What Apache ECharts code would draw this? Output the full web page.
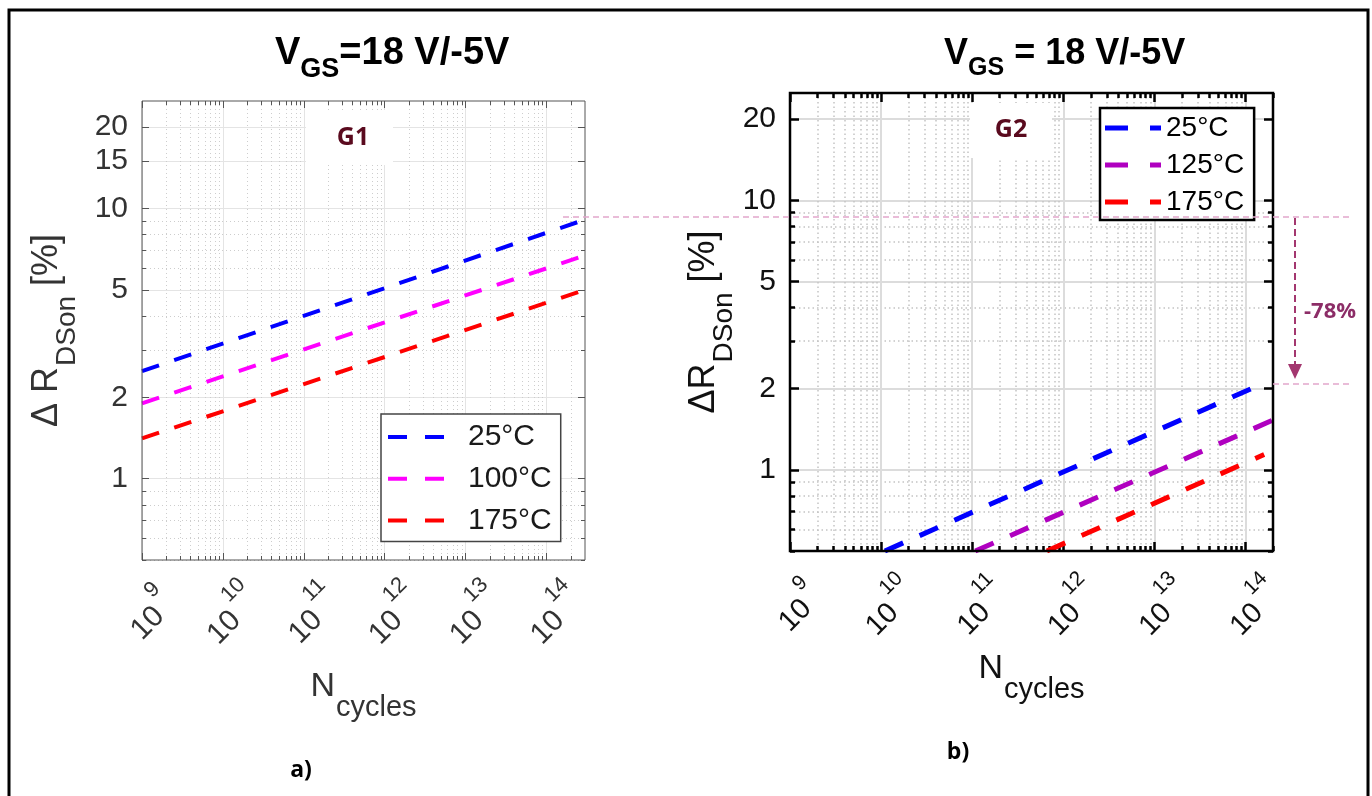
<!DOCTYPE html>
<html>
<head>
<meta charset="utf-8">
<title>ΔRDSon vs Ncycles</title>
<script src="https://cdn.jsdelivr.net/npm/echarts@6/dist/echarts.min.js"></script>
<style>
  html, body { margin: 0; padding: 0; background: #fff; }
  #main { width: 1372px; height: 796px; }
</style>
</head>
<body>
<div id="main"></div>
<script>
// ---- values (end points of the straight log-log fits) ----
// a) G1
const cyclesG1 = [1e9, 3e14]
const g1_25 = [2.5, 9.1]
const g1_100 = [1.9, 6.7]
const g1_175 = [1.41, 5.0]

// b) G2
const cyclesG2_25 = [1.1e10, 1.5e14]
const g2_25 = [0.5, 2.08]
const cyclesG2_125 = [1.08e11, 2e14]
const g2_125 = [0.5, 1.53]
const cyclesG2_175 = [6.6e11, 1.6e14]
const g2_175 = [0.5, 1.14]

// ticks
const xExponents = [9, 10, 11, 12, 13, 14]
const yLabelsG1 = [1, 2, 5, 10, 15, 20]
const yLabelsG2 = [1, 2, 5, 10, 20]
const yMin = 0.5
const yMax = 25

const FONT = '"Liberation Sans", Arial, sans-serif'
const pairs = (xs, ys) => xs.map((x, i) => [x, ys[i]])
const xMajors = xExponents.map(e => Math.pow(10, e))

// 2..9 x 10^n ticks, the dotted minor grid
function minorValues(lo, hi, skip) {
  const out = []
  for (let e = Math.floor(Math.log10(lo)); e <= Math.ceil(Math.log10(hi)); e++) {
    for (let m = 1; m <= 9; m++) {
      const v = +(m * Math.pow(10, e)).toPrecision(6)
      if (v >= lo && v <= hi && skip.indexOf(v) < 0) out.push(v)
    }
  }
  return out
}

// four axes per direction: labels + major grid, minor grid, opposite major ticks, opposite minor ticks
function makeAxes(dim, grid, min, max, majors, st, main) {
  const pos = dim === 'x' ? ['bottom', 'top'] : ['left', 'right']
  const minors = minorValues(min, max, majors)
  const base = { type: 'log', logBase: 10, gridIndex: grid, min: min, max: max, axisLine: { show: false } }
  const tick = (vals, len) => ({ show: true, inside: true, length: len, customValues: vals, lineStyle: { color: st.tick, width: st.tickW } })
  return [
    Object.assign({}, base, main, {
      position: pos[0],
      axisTick: tick(majors, st.major),
      splitLine: { show: true, lineStyle: { color: st.grid, width: st.gridW } }
    }),
    Object.assign({}, base, {
      position: pos[0], axisLabel: { show: false },
      axisTick: tick(minors, st.minor),
      splitLine: { show: true, lineStyle: { color: st.dot, width: st.dotW, type: [st.dotW, 3] } }
    }),
    Object.assign({}, base, { position: pos[1], axisLabel: { show: false }, axisTick: tick(majors, st.major), splitLine: { show: false } }),
    Object.assign({}, base, { position: pos[1], axisLabel: { show: false }, axisTick: tick(minors, st.minor), splitLine: { show: false } })
  ]
}

const styleA = { tick: '#555', tickW: 1, major: 7, minor: 4, grid: '#e4e4e4', gridW: 1, dot: '#cdcdcd', dotW: 1 }
const styleB = { tick: '#000', tickW: 2.5, major: 9, minor: 5, grid: '#dcdcdc', gridW: 2, dot: '#c4c4c4', dotW: 1.5 }

function xMain(color, size, sup, margin, gap) {
  return {
    axisLabel: {
      customValues: xMajors, rotate: 45, margin: margin, align: 'center', verticalAlign: 'middle',
      formatter: v => '{b|10}{s|' + Math.round(Math.log10(v)) + '}',
      rich: {
        b: { fontFamily: FONT, fontSize: size, lineHeight: size, color: color, verticalAlign: 'top', padding: [sup * 0.75, 0, 0, 0] },
        s: { fontFamily: FONT, fontSize: sup, lineHeight: sup, color: color, verticalAlign: 'top', padding: [0, 0, 0, 4] }
      }
    },
    name: '{n|N}{c|cycles}', nameLocation: 'middle', nameGap: gap, nameMoveOverlap: false,
    nameTextStyle: {
      rich: {
        n: { fontFamily: FONT, fontSize: 34, lineHeight: 34, color: color, verticalAlign: 'top' },
        c: { fontFamily: FONT, fontSize: 29, lineHeight: 29, color: color, verticalAlign: 'top', padding: [23, 0, 0, 1] }
      }
    }
  }
}

function yMain(labels, color, name, gap) {
  return {
    axisLabel: { customValues: labels, margin: 14, fontFamily: FONT, fontSize: 30, color: color },
    name: name, nameLocation: 'middle', nameRotate: 90, nameGap: gap, nameMoveOverlap: false,
    nameTextStyle: {
      rich: {
        d: { fontFamily: FONT, fontSize: 36, lineHeight: 36, color: color, verticalAlign: 'top' },
        s: { fontFamily: FONT, fontSize: 28, lineHeight: 28, color: color, verticalAlign: 'top', padding: [24, 0, 0, 1] }
      }
    }
  }
}

const xAxisA = makeAxes('x', 0, 1e9, cyclesG1[1], xMajors, styleA, xMain('#333', 30, 22, 46, 110))
const xAxisB = makeAxes('x', 1, 1e9, 2e14, xMajors, styleB, xMain('#111', 29, 21, 48, 101))
const yAxisA = makeAxes('y', 0, yMin, yMax, yLabelsG1, styleA, yMain(yLabelsG1, '#333', '{d|Δ R}{s|DSon}{d| [%]}', 77))
const yAxisB = makeAxes('y', 1, yMin, yMax, yLabelsG2, styleB, yMain(yLabelsG2, '#111', '{d|ΔR}{s|DSon}{d| [%]}', 68))

function dashed(name, data, color, width, dash, xi, yi) {
  return {
    name: name, type: 'line', data: data, xAxisIndex: xi, yAxisIndex: yi,
    symbol: 'none', showSymbol: false, z: 2, silent: true,
    itemStyle: { color: color },
    lineStyle: { color: color, width: width, type: dash, cap: 'butt' }
  }
}

// legend keys drawn as two dashes, like the reference
const legendBase = { orient: 'vertical', itemWidth: 56, backgroundColor: '#fff', selectedMode: false, itemStyle: { borderWidth: 0 } }

const option = {
  animation: false,
  backgroundColor: '#fff',
  grid: [
    { left: 142, top: 101, width: 443, height: 459, show: true, z: 3, backgroundColor: 'transparent', borderColor: '#555', borderWidth: 1 },
    { left: 790, top: 93, width: 483, height: 458, show: true, z: 3, backgroundColor: 'transparent', borderColor: '#000', borderWidth: 2.5 }
  ],
  xAxis: xAxisA.concat(xAxisB),
  yAxis: yAxisA.concat(yAxisB),
  legend: [
    Object.assign({}, legendBase, {
      data: ['25°C', '100°C', '175°C'], left: 381, top: 414, padding: [8, 9, 6, 7], itemGap: 11.7,
      icon: 'path://M0 0H19V4H0Z M37 0H56V4H37Z', itemHeight: 4,
      borderColor: '#444', borderWidth: 1.5,
      textStyle: { fontFamily: FONT, fontSize: 30, lineHeight: 30, color: '#1a1a1a', padding: [0, 0, 0, 19] }
    }),
    Object.assign({}, legendBase, {
      data: ['25°C', '125°C', '175°C'], left: 1100, top: 108, padding: [6, 10, 4, 5], itemGap: 9,
      icon: 'path://M0 0H23V5H0Z M45 0H56V5H45Z', itemHeight: 5,
      borderColor: '#000', borderWidth: 2.5,
      textStyle: { fontFamily: FONT, fontSize: 28, lineHeight: 28, color: '#000', padding: [0, 0, 0, 0] }
    })
  ],
  series: [
    dashed('25°C', pairs(cyclesG1, g1_25), '#0000ff', 4, [18, 16], 0, 0),
    dashed('100°C', pairs(cyclesG1, g1_100), '#ff00ff', 4, [18, 16], 0, 0),
    dashed('175°C', pairs(cyclesG1, g1_175), '#ff0000', 4, [18, 16], 0, 0),
    dashed('25°C', pairs(cyclesG2_25, g2_25), '#0000ff', 5, [20, 18], 4, 4),
    dashed('125°C', pairs(cyclesG2_125, g2_125), '#b000c0', 5, [20, 18], 4, 4),
    dashed('175°C', pairs(cyclesG2_175, g2_175), '#ff0000', 5, [20, 18], 4, 4)
  ],
  graphic: [
    // frame round the whole figure
    { type: 'rect', z: 10, shape: { x: 9, y: 10, width: 1359, height: 800 }, style: { fill: 'none', stroke: '#000', lineWidth: 3 } },
    // titles
    { type: 'text', x: 275, y: 35, z: 10, style: {
      text: '{v|V}{g|GS}{v|=18 V/-5V}', align: 'left', verticalAlign: 'top', textAlign: 'left', textVerticalAlign: 'top',
      rich: {
        v: { fontFamily: FONT, fontWeight: 'bold', fontSize: 38, lineHeight: 38, fill: '#000', verticalAlign: 'top' },
        g: { fontFamily: FONT, fontWeight: 'bold', fontSize: 27, lineHeight: 27, fill: '#000', verticalAlign: 'top', padding: [21, 0, 0, 0] }
      } } },
    { type: 'text', x: 944, y: 36, z: 10, style: {
      text: '{v|V}{g|GS}{v| = 18 V/-5V}', align: 'left', verticalAlign: 'top', textAlign: 'left', textVerticalAlign: 'top',
      rich: {
        v: { fontFamily: FONT, fontWeight: 'bold', fontSize: 36, lineHeight: 36, fill: '#000', verticalAlign: 'top' },
        g: { fontFamily: FONT, fontWeight: 'bold', fontSize: 25, lineHeight: 25, fill: '#000', verticalAlign: 'top', padding: [20, 0, 0, 0] }
      } } },
    // G1 / G2 tags on white patches
    { type: 'rect', z: 2, shape: { x: 306, y: 110, width: 87, height: 55 }, style: { fill: '#fff' } },
    { type: 'text', x: 353, y: 138, z: 3, style: { text: 'G1', fontFamily: '"Open Sans", sans-serif', fontWeight: 'bold', fontSize: 25, fill: '#5a0a1e', align: 'center', verticalAlign: 'middle', textAlign: 'center', textVerticalAlign: 'middle' } },
    { type: 'rect', z: 2, shape: { x: 970, y: 103, width: 82, height: 55 }, style: { fill: '#fff' } },
    { type: 'text', x: 1011, y: 130, z: 3, style: { text: 'G2', fontFamily: '"Open Sans", sans-serif', fontWeight: 'bold', fontSize: 25, fill: '#5a0a1e', align: 'center', verticalAlign: 'middle', textAlign: 'center', textVerticalAlign: 'middle' } },
    // -78% annotation
    { type: 'line', z: 10, shape: { x1: 563, y1: 217, x2: 1353, y2: 217 }, style: { stroke: '#e2a6cc', lineWidth: 1.5, lineDash: [6, 4] } },
    { type: 'line', z: 10, shape: { x1: 1273, y1: 384, x2: 1353, y2: 384 }, style: { stroke: '#e2a6cc', lineWidth: 1.5, lineDash: [6, 4] } },
    { type: 'line', z: 10, shape: { x1: 1295, y1: 218, x2: 1295, y2: 366 }, style: { stroke: '#a3376f', lineWidth: 2, lineDash: [7, 4] } },
    { type: 'polygon', z: 10, shape: { points: [[1288, 364], [1302, 364], [1295, 379]] }, style: { fill: '#a3376f' } },
    { type: 'text', x: 1304, y: 312, z: 10, style: { text: '-78%', fontFamily: '"Open Sans", sans-serif', fontWeight: 'bold', fontSize: 22, fill: '#8c2d67', align: 'left', verticalAlign: 'middle', textAlign: 'left', textVerticalAlign: 'middle' } },
    // panel tags
    { type: 'text', x: 301, y: 770, z: 10, style: { text: 'a)', fontFamily: '"Open Sans", sans-serif', fontWeight: 'bold', fontSize: 23, fill: '#000', align: 'center', verticalAlign: 'middle', textAlign: 'center', textVerticalAlign: 'middle' } },
    { type: 'text', x: 958, y: 752, z: 10, style: { text: 'b)', fontFamily: '"Open Sans", sans-serif', fontWeight: 'bold', fontSize: 23, fill: '#000', align: 'center', verticalAlign: 'middle', textAlign: 'center', textVerticalAlign: 'middle' } }
  ]
}

const chart = echarts.init(document.getElementById('main'))
chart.setOption(option)
window.addEventListener('resize', () => chart.resize())
</script>
</body>
</html>
